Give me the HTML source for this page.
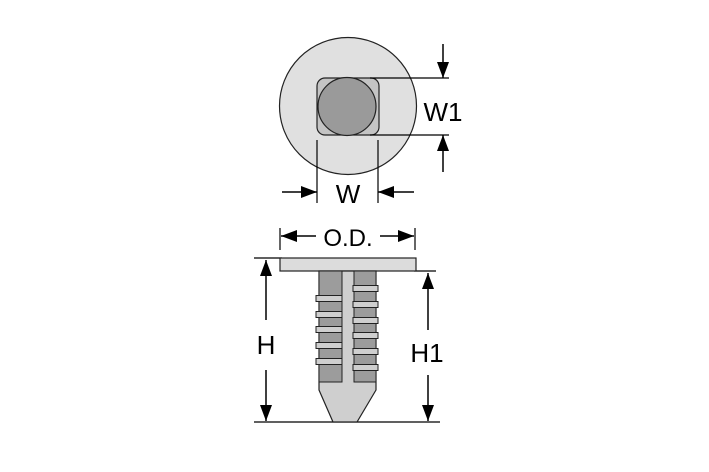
<!DOCTYPE html>
<html><head><style>body{margin:0;background:#fff}svg{display:block}</style></head><body>
<svg width="709" height="472" viewBox="0 0 709 472" xmlns="http://www.w3.org/2000/svg" font-family="Liberation Sans, sans-serif">
<defs>
<marker id="a" viewBox="0 0 10 10" refX="10" refY="5" markerWidth="16" markerHeight="12" markerUnits="userSpaceOnUse" orient="auto" preserveAspectRatio="none"><path d="M0,0 L10,5 L0,10 Z" fill="#000"/></marker>
</defs>
<circle cx="348" cy="106" r="68.5" fill="#e0e0e0" stroke="#222" stroke-width="1.2"/>
<rect x="317" y="78" width="62" height="57" rx="8" fill="#c4c4c4" stroke="#222" stroke-width="1.2"/>
<circle cx="347" cy="106.5" r="29" fill="#9a9a9a" stroke="#222" stroke-width="1.2"/>
<g stroke="#000" stroke-width="1.2" fill="none">
<line x1="370" y1="78" x2="449" y2="78"/>
<line x1="370" y1="135" x2="449" y2="135"/>
<line x1="443" y1="44" x2="443" y2="78" marker-end="url(#a)" stroke-width="1.5"/>
<line x1="443" y1="172" x2="443" y2="135" marker-end="url(#a)" stroke-width="1.5"/>
<line x1="317" y1="140" x2="317" y2="203"/>
<line x1="378" y1="140" x2="378" y2="203"/>
<line x1="282" y1="192" x2="317" y2="192" marker-end="url(#a)" stroke-width="1.5"/>
<line x1="414" y1="192" x2="378" y2="192" marker-end="url(#a)" stroke-width="1.5"/>
</g>
<text x="443" y="121" font-size="26" text-anchor="middle">W1</text>
<text x="348" y="203" font-size="26" text-anchor="middle">W</text>
<g stroke="#000" stroke-width="1.2" fill="none">
<line x1="280" y1="228" x2="280" y2="250"/>
<line x1="415" y1="228" x2="415" y2="250"/>
<line x1="316" y1="236" x2="281" y2="236" marker-end="url(#a)" stroke-width="1.5"/>
<line x1="380" y1="236" x2="414" y2="236" marker-end="url(#a)" stroke-width="1.5"/>
<line x1="254" y1="258" x2="282" y2="258"/>
<line x1="414" y1="271" x2="436" y2="271"/>
<line x1="254" y1="422" x2="440" y2="422"/>
<line x1="266" y1="320" x2="266" y2="260" marker-end="url(#a)" stroke-width="1.5"/>
<line x1="266" y1="370" x2="266" y2="421" marker-end="url(#a)" stroke-width="1.5"/>
<line x1="428" y1="330" x2="428" y2="273" marker-end="url(#a)" stroke-width="1.5"/>
<line x1="428" y1="375" x2="428" y2="421" marker-end="url(#a)" stroke-width="1.5"/>
</g>
<text x="348" y="246" font-size="24" text-anchor="middle">O.D.</text>
<text x="266" y="354" font-size="26" text-anchor="middle">H</text>
<text x="427" y="362" font-size="26" text-anchor="middle">H1</text>
<rect x="280" y="258" width="136" height="13" fill="#dcdcdc" stroke="#222" stroke-width="1.2"/>
<path d="M319,271 L376,271 L376,390 L357,422 L333,422 L319,390 Z" fill="#cfcfcf" stroke="#222" stroke-width="1.2"/>
<g fill="#9c9c9c" stroke="#222" stroke-width="1">
<rect x="319" y="271" width="23" height="111"/>
<rect x="354" y="271" width="22" height="111"/>
</g>
<g fill="#cfcfcf" stroke="#222" stroke-width="1">
<rect x="316" y="295.5" width="26" height="6"/>
<rect x="316" y="311.5" width="26" height="6"/>
<rect x="316" y="326.5" width="26" height="6"/>
<rect x="316" y="342.5" width="26" height="6"/>
<rect x="316" y="358.5" width="26" height="6"/>
<rect x="353" y="285.5" width="25" height="6"/>
<rect x="353" y="301.5" width="25" height="6"/>
<rect x="353" y="317.5" width="25" height="6"/>
<rect x="353" y="332.5" width="25" height="6"/>
<rect x="353" y="348.5" width="25" height="6"/>
<rect x="353" y="364.5" width="25" height="6"/>
</g>
</svg>
</body></html>
